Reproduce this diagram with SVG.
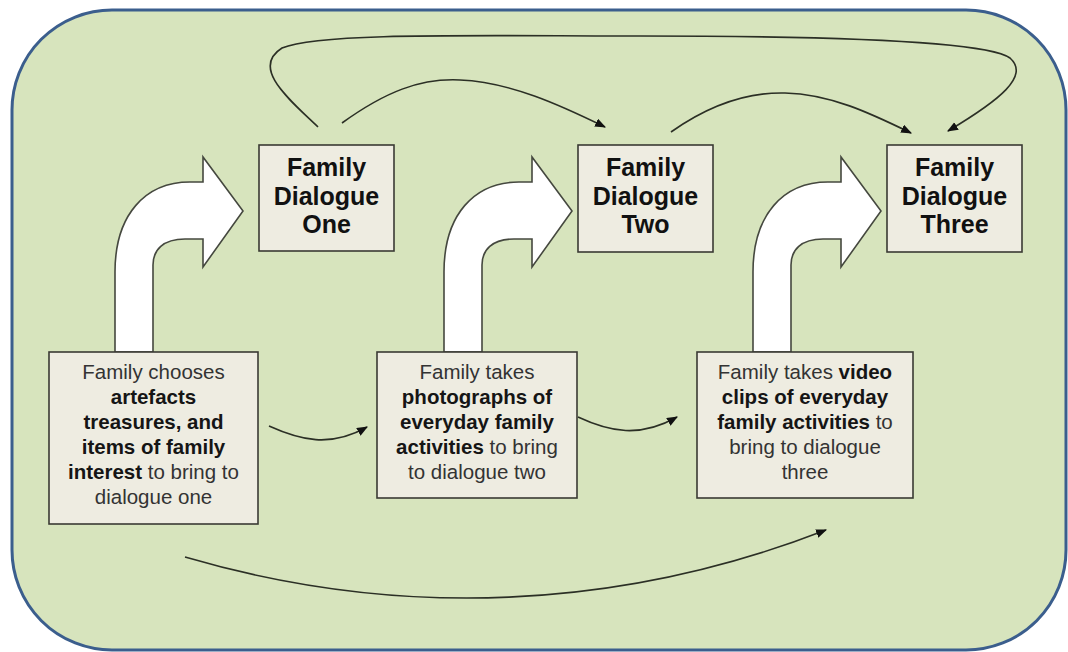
<svg xmlns="http://www.w3.org/2000/svg" width="1068" height="652" viewBox="0 0 1068 652">
  <style>
    .panel { fill: #d7e4bd; stroke: #3b5e8d; stroke-width: 3; }
    .box { fill: #eeece1; stroke: #3a3a34; stroke-width: 1.6; }
    .bend { fill: #ffffff; stroke: #45483f; stroke-width: 1.6; stroke-linejoin: miter; }
    .flow { fill: none; stroke: #2b2f25; stroke-width: 1.6; marker-end: url(#tip); }
    .title { font-family: "Liberation Sans", Arial, sans-serif; font-size: 25px; font-weight: bold; fill: #111111; text-anchor: middle; }
    .body { font-family: "Liberation Sans", Arial, sans-serif; font-size: 20.5px; fill: #333333; text-anchor: middle; }
    .body .b { font-weight: bold; fill: #151515; }
  </style>
  <defs>
    <marker id="tip" viewBox="0 0 10 8" refX="9" refY="4" markerWidth="11" markerHeight="9" markerUnits="userSpaceOnUse" orient="auto">
      <path d="M0,0 L10,4 L0,8 Z" fill="#111111"/>
    </marker>
    <!-- bent-up arrow: vertical shaft rising from a task box, turning right into a dialogue box -->
    <path id="bent" class="bend" d="M115,352 V272 C115,215 145,182 190,182 H203 V157 L243,211 L203,267 V239 H185 C163,239 153,250 153,265 V352 Z"/>
  </defs>

  <rect class="panel" x="12" y="10" width="1054" height="640" rx="100" ry="100"/>

  <g id="bent-arrows">
    <use href="#bent"/>
    <use href="#bent" transform="translate(329,0)"/>
    <use href="#bent" transform="translate(638,0)"/>
  </g>

  <g id="connectors">
    <path class="flow" d="M269,426 C300,440 330,448 367,427"/>
    <path class="flow" d="M578,417 C610,432 640,438 677,417"/>
    <path class="flow" d="M185,557 C400,620 620,610 826,530"/>
    <path class="flow" d="M342,123 C385,92 420,78 460,80 C510,82 560,105 605,127"/>
    <path class="flow" d="M671,132 C705,108 745,92 785,93 C830,94 870,113 911,133"/>
    <path class="flow" d="M318,127 C290,100 250,68 282,48 C320,32 480,36 640,36 C800,36 985,40 1010,58 C1030,76 1000,100 948,131"/>
  </g>

  <g id="dialogue-one">
    <rect class="box" x="259" y="145" width="135" height="106"/>
    <text class="title" x="326.5" y="176">Family</text>
    <text class="title" x="326.5" y="204.5">Dialogue</text>
    <text class="title" x="326.5" y="233">One</text>
  </g>

  <g id="dialogue-two">
    <rect class="box" x="578" y="145" width="135" height="107"/>
    <text class="title" x="645.5" y="176">Family</text>
    <text class="title" x="645.5" y="204.5">Dialogue</text>
    <text class="title" x="645.5" y="233">Two</text>
  </g>

  <g id="dialogue-three">
    <rect class="box" x="887" y="145" width="135" height="107"/>
    <text class="title" x="954.5" y="176">Family</text>
    <text class="title" x="954.5" y="204.5">Dialogue</text>
    <text class="title" x="954.5" y="233">Three</text>
  </g>

  <g id="task-artefacts">
    <rect class="box" x="49" y="352" width="209" height="172"/>
    <text class="body" x="153.5" y="379">Family chooses</text>
    <text class="body" x="153.5" y="404"><tspan class="b">artefacts</tspan></text>
    <text class="body" x="153.5" y="429"><tspan class="b">treasures, and</tspan></text>
    <text class="body" x="153.5" y="454"><tspan class="b">items of family</tspan></text>
    <text class="body" x="153.5" y="479"><tspan class="b">interest</tspan> to bring to</text>
    <text class="body" x="153.5" y="504">dialogue one</text>
  </g>

  <g id="task-photographs">
    <rect class="box" x="377" y="352" width="200" height="146"/>
    <text class="body" x="477" y="379">Family takes</text>
    <text class="body" x="477" y="404"><tspan class="b">photographs of</tspan></text>
    <text class="body" x="477" y="429"><tspan class="b">everyday family</tspan></text>
    <text class="body" x="477" y="454"><tspan class="b">activities</tspan> to bring</text>
    <text class="body" x="477" y="479">to dialogue two</text>
  </g>

  <g id="task-video">
    <rect class="box" x="697" y="352" width="216" height="146"/>
    <text class="body" x="805" y="379">Family takes <tspan class="b">video</tspan></text>
    <text class="body" x="805" y="404"><tspan class="b">clips of everyday</tspan></text>
    <text class="body" x="805" y="429"><tspan class="b">family activities</tspan> to</text>
    <text class="body" x="805" y="454">bring to dialogue</text>
    <text class="body" x="805" y="479">three</text>
  </g>
</svg>
